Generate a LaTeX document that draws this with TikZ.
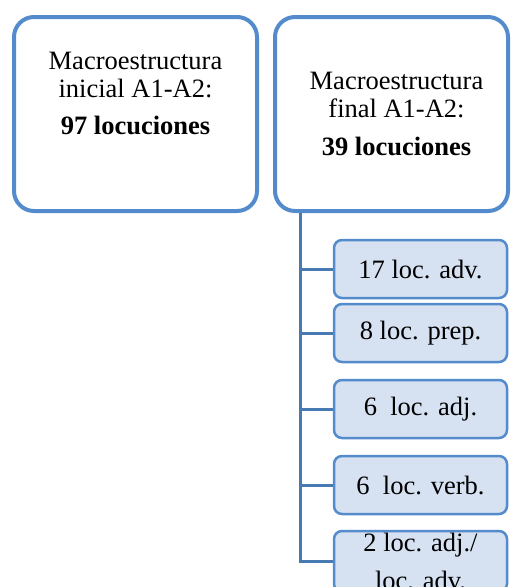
\documentclass[tikz,border=0pt]{standalone}
\usepackage{fontspec}
\setmainfont{Liberation Serif}
\usepackage{tikz}
\usetikzlibrary{positioning}

\definecolor{boxline}{RGB}{84,139,204}
\definecolor{connline}{RGB}{72,122,178}
\definecolor{boxfill}{RGB}{214,225,241}

\begin{document}
\begin{tikzpicture}[
  x=1pt, y=-1pt,
  font=\fontsize{26.5}{28}\selectfont,
  bigbox/.style={draw=boxline, line width=4pt, rounded corners=20pt, minimum width=243pt, minimum height=194pt},
  subbox/.style={draw=boxline, fill=boxfill, line width=2.5pt, rounded corners=8pt, minimum width=173pt, minimum height=58pt, inner sep=2pt, align=center},
  txt/.style={align=center},
  conn/.style={draw=connline, line width=3pt}
]
\useasboundingbox (0,0) rectangle (511,587);
\clip (0,0) rectangle (511,587);

\node[bigbox] (ini) at (135.5,114) {};
\node[bigbox, minimum width=233pt, right=14pt of ini] (fin) {};
\node[txt] (initxt) at ([yshift=20.5pt]ini.center) {Macroestructura\\inicial A1-A2:\\[9pt]\textbf{97 locuciones}};
\node[txt] (fintxt) at ([xshift=5pt]fin.center) {Macroestructura\\final A1-A2:\\[10pt]\textbf{39 locuciones}};

\node[subbox] (adv) at (420.5,269) {17 loc. adv.};
\node[subbox, below=3.5pt of adv] (prep) {8 loc. prep.};
\node[subbox, below=15.5pt of prep] (adj) {6\ \ loc. adj.};
\node[subbox, below=15.5pt of adj] (verb) {6\ \ loc. verb.};
\node[subbox, below=14.5pt of verb] (adjadv) {2 loc. adj./\\[10pt]loc. adv.};

\coordinate (root) at ([xshift=27pt]fin.south west);
\draw[conn] (root) |- (adjadv.west);
\draw[conn] (root |- adv.west) -- (adv.west);
\draw[conn] (root |- prep.west) -- (prep.west);
\draw[conn] (root |- adj.west) -- (adj.west);
\draw[conn] (root |- verb.west) -- (verb.west);
\end{tikzpicture}
\end{document}
